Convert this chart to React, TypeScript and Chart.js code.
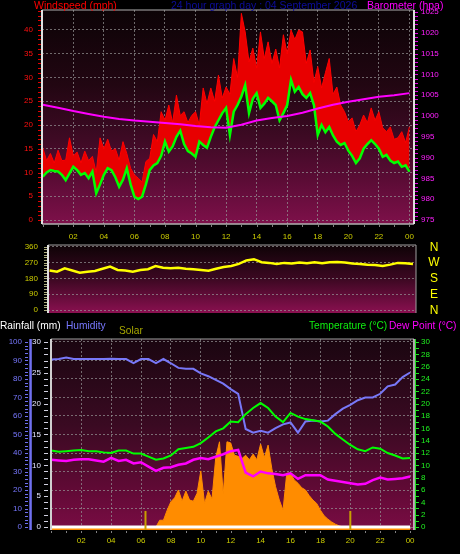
import React, { useEffect, useRef } from "react";
import { Chart, registerables } from "chart.js";

Chart.register(...registerables);

// ---------------- data ----------------
const hourTicks = [2, 4, 6, 8, 10, 12, 14, 16, 18, 20, 22, 24];
const hourLabels = ["02", "04", "06", "08", "10", "12", "14", "16", "18", "20", "22", "00"];

const windTicks = [0, 5, 10, 15, 20, 25, 30, 35, 40];
const baroTicks = [975, 980, 985, 990, 995, 1000, 1005, 1010, 1015, 1020, 1025];
const dirTicks = [0, 90, 180, 270, 360];
const dirLabels = ["0", "90", "180", "270", "360"];
const compassLabels = ["N", "E", "S", "W", "N"];
const humidityTicks = [0, 10, 20, 30, 40, 50, 60, 70, 80, 90, 100];
const rainTicks = [0, 5, 10, 15, 20, 25, 30];
const tempTicks = [0, 2, 4, 6, 8, 10, 12, 14, 16, 18, 20, 22, 24, 26, 28, 30];

// wind speed (mph), one value every 15 minutes from 00:00 to 24:00
const windStepHours = 0.25;
const windAverage = [
  9.1, 10.0, 10.5, 10.3, 10.2, 9.5, 8.4, 9.8,
  11.2, 10.5, 9.5, 9.9, 8.8, 10.2, 5.6, 7.5,
  9.5, 10.9, 10.5, 9.0, 7.0, 8.5, 10.9, 7.5,
  4.9, 4.4, 4.9, 7.5, 10.5, 11.5, 12.0, 13.5,
  16.5, 14.4, 15.5, 17.5, 18.8, 16.0, 14.5, 14.0,
  13.3, 16.5, 15.8, 15.2, 17.5, 19.5, 21.0, 22.5,
  23.6, 17.9, 22.8, 24.2, 26.0, 28.4, 22.5, 25.5,
  26.7, 23.6, 24.5, 25.7, 25.0, 24.2, 21.0, 22.5,
  24.2, 29.5, 27.0, 28.0, 26.5, 25.7, 26.7, 24.2,
  17.9, 20.0, 18.5, 19.6, 17.8, 16.5, 15.8, 16.2,
  14.6, 13.5, 12.0, 13.0, 15.0, 16.0, 16.8, 16.0,
  15.0, 13.3, 13.7, 12.5, 12.0, 12.3, 11.2, 11.5,
  10.2,
];
const windGust = [
  15.2, 12.5, 14.0, 12.0, 14.7, 12.5, 12.6, 17.3,
  13.5, 14.3, 12.0, 14.5, 12.5, 13.4, 10.0, 17.3,
  15.0, 17.0, 14.5, 15.0, 12.6, 16.5, 14.0, 10.9,
  9.5, 8.8, 8.0, 12.3, 13.0, 18.0, 16.5, 22.8,
  21.0, 24.2, 20.5, 26.3, 22.0, 22.8, 20.5, 22.0,
  22.8, 20.0, 27.8, 24.5, 27.8, 25.0, 30.5, 25.7,
  28.0, 26.5, 34.0, 30.0, 43.5, 39.6, 33.3, 36.2,
  32.0, 39.6, 34.0, 37.5, 33.0, 36.0, 32.0, 39.0,
  35.0, 40.0, 38.0, 40.0, 39.6, 33.0, 35.8, 29.0,
  32.3, 27.8, 31.0, 34.0, 26.5, 28.0, 24.2, 22.8,
  20.7, 21.5, 18.6, 20.0, 22.1, 20.5, 23.6, 21.0,
  22.8, 19.4, 18.6, 19.6, 17.0, 17.3, 18.6, 16.3,
  19.6,
];

// barometer (hPa), hourly
const baroStepHours = 1;
const barometer = [
  1002.7, 1002.0, 1001.2, 1000.5, 999.8, 999.3, 998.9, 998.6, 998.3, 998.0,
  997.6, 997.3, 997.2, 997.9, 998.9, 999.5, 1000.0, 1000.8, 1001.8, 1002.7,
  1003.4, 1004.0, 1004.6, 1005.0, 1005.5,
];

// wind direction (degrees), every 30 minutes
const dirStepHours = 0.5;
const windDirection = [
  225, 218, 237, 225, 212, 218, 222, 235, 247, 228,
  225, 218, 228, 232, 250, 240, 237, 240, 235, 232,
  228, 224, 235, 245, 250, 262, 282, 289, 272, 268,
  262, 268, 265, 270, 266, 272, 266, 272, 273, 270,
  264, 262, 258, 256, 250, 258, 268, 266, 262,
];

// humidity (%), temperature and dew point (°C), every 30 minutes
const climateStepHours = 0.5;
const humidity = [
  90.5, 90.8, 91.6, 90.8, 90.8, 90.8, 90.8, 90.8, 91.0, 90.8,
  90.8, 88.6, 90.8, 90.8, 88.6, 90.8, 88.5, 86.0, 85.5, 85.5,
  83.0, 81.5, 79.5, 77.5, 74.5, 72.0, 53.0, 51.0, 52.0, 51.0,
  53.5, 55.5, 56.5, 51.0, 57.0, 57.5, 57.0, 57.5, 61.0, 64.0,
  66.0, 68.5, 70.0, 70.0, 72.0, 76.0, 77.0, 81.0, 83.5,
];
const temperature = [
  12.4, 12.2, 12.3, 12.4, 12.5, 12.3, 12.3, 12.1, 12.0, 12.4,
  12.4, 11.9, 11.9, 11.4, 10.9, 11.1, 11.6, 12.6, 12.8, 13.0,
  13.6, 14.5, 15.5, 16.0, 17.1, 17.0, 18.3, 19.3, 20.1, 19.3,
  17.9, 17.0, 18.5, 17.9, 17.5, 17.3, 17.1, 16.3, 15.1, 14.2,
  13.3, 12.6, 12.3, 12.9, 12.7, 12.0, 11.6, 11.1, 11.2,
];
const dewPoint = [
  10.9, 10.8, 10.7, 10.9, 11.0, 11.0, 10.8, 10.6, 11.2, 10.7,
  10.9, 10.3, 10.5, 9.8, 9.1, 9.6, 9.7, 10.1, 10.3, 10.9,
  11.2, 11.0, 11.4, 11.8, 12.3, 12.5, 8.8, 8.2, 9.0, 8.7,
  8.6, 8.4, 8.7, 7.8, 8.4, 8.4, 8.4, 7.7, 7.5, 7.3,
  7.1, 6.9, 7.0, 7.6, 8.0, 7.7, 7.8, 7.9, 8.2,
];

// solar radiation (W/m²), every 15 minutes
const solarStepHours = 0.25;
const solar = [
  0, 0, 0, 0, 0, 0, 0, 0, 0, 0, 0, 0, 0, 0, 0, 0, 0, 0, 0, 0,
  0, 0, 0, 0, 0, 0, 0, 0, 0, 60, 60, 150, 225, 260, 330, 230,
  320, 240, 230, 300, 500, 210, 320, 250, 620, 760, 290, 760,
  750, 640, 630, 610, 640, 600, 650, 600, 740, 620, 730, 520,
  360, 240, 150, 480, 480, 420, 390, 350, 330, 280, 240, 210,
  150, 100, 70, 45, 25, 10, 0, 0, 0, 0, 0, 0, 0, 0, 0, 0,
  0, 0, 0, 0, 0, 0, 0, 0, 0,
];

// rainfall (mm), hourly
const rainStepHours = 1;
const rainfall = [0, 0, 0, 0, 0, 0, 0, 0, 0, 0, 0, 0, 0, 0, 0, 0, 0, 0, 0, 0, 0, 0, 0, 0, 0];

// sunrise / sunset markers (hours)
const sunMarkers = [6.3, 20.0];

// ---------------- helpers ----------------
const FONT = "'Liberation Sans', Arial, Helvetica, sans-serif";
const GRID = "rgba(150,150,150,0.7)";

function series(values: number[], step: number) {
  return values.map((v, i) => ({ x: i * step, y: v }));
}

function fixedTicks(list: number[]) {
  return (axis: any) => {
    axis.ticks = list.map((v) => ({ value: v }));
  };
}

function fitWidth(w: number) {
  return (s: any) => {
    s.width = w;
    s.paddingTop = 0;
    s.paddingBottom = 0;
    s.paddingLeft = 0;
    s.paddingRight = 0;
  };
}
function fitHeight(h: number) {
  return (s: any) => {
    s.height = h;
    s.paddingTop = 0;
    s.paddingBottom = 0;
    s.paddingLeft = 0;
    s.paddingRight = 0;
  };
}

const plain = (v: any) => String(v);

function makeBg(id: string, stops: [number, string][]) {
  return {
    id,
    beforeDraw(chart: any) {
      const { ctx, chartArea: a } = chart;
      if (!a) return;
      const g = ctx.createLinearGradient(0, a.top, 0, a.bottom);
      stops.forEach(([o, c]) => g.addColorStop(o, c));
      ctx.save();
      ctx.fillStyle = g;
      ctx.fillRect(a.left, a.top, a.right - a.left, a.bottom - a.top);
      ctx.restore();
    },
  };
}

type Minor = { scale: string; side: string; from: number; to: number; step: number; gap: number; len: number; color: string };
function makeMinor(id: string, items: Minor[]) {
  return {
    id,
    afterDraw(chart: any) {
      const ctx = chart.ctx;
      ctx.save();
      ctx.lineWidth = 1;
      items.forEach((it) => {
        const s = chart.scales[it.scale];
        if (!s) return;
        ctx.strokeStyle = it.color;
        ctx.beginPath();
        for (let v = it.from; v <= it.to + 1e-6; v += it.step) {
          const p = Math.round(s.getPixelForValue(v)) + 0.5;
          if (it.side === "left") {
            const x0 = s.right - it.gap;
            ctx.moveTo(x0 - it.len, p);
            ctx.lineTo(x0, p);
          } else if (it.side === "right") {
            const x0 = s.left + it.gap;
            ctx.moveTo(x0, p);
            ctx.lineTo(x0 + it.len, p);
          } else {
            const y0 = s.top + it.gap;
            ctx.moveTo(p, y0);
            ctx.lineTo(p, y0 + it.len);
          }
        }
        ctx.stroke();
      });
      ctx.restore();
    },
  };
}

type Side = { side: string; color: string; width: number };
function makeFrame(id: string, sides: Side[]) {
  return {
    id,
    afterDraw(chart: any) {
      const a = chart.chartArea;
      const ctx = chart.ctx;
      ctx.save();
      sides.forEach((s) => {
        ctx.strokeStyle = s.color;
        ctx.lineWidth = s.width;
        ctx.beginPath();
        if (s.side === "left") {
          ctx.moveTo(a.left, a.top);
          ctx.lineTo(a.left, a.bottom);
        } else if (s.side === "right") {
          ctx.moveTo(a.right, a.top);
          ctx.lineTo(a.right, a.bottom);
        } else if (s.side === "top") {
          ctx.moveTo(a.left, a.top);
          ctx.lineTo(a.right, a.top);
        } else {
          ctx.moveTo(a.left, a.bottom);
          ctx.lineTo(a.right, a.bottom);
        }
        ctx.stroke();
      });
      ctx.restore();
    },
  };
}

const tickFont = { size: 8, family: FONT };

function hourAxis(min: number, max: number, height: number, padding: number) {
  return {
    type: "linear",
    min,
    max,
    afterBuildTicks: fixedTicks(hourTicks),
    afterFit: fitHeight(height),
    ticks: {
      callback: (_v: any, i: number) => hourLabels[i],
      color: "#cccc00",
      font: tickFont,
      padding,
      autoSkip: false,
      maxRotation: 0,
    },
    grid: { color: GRID, drawTicks: false },
    border: { display: false, dash: [2, 2] },
  };
}

// ---------------- chart configs ----------------
function topConfig(): any {
  return {
    type: "line",
    data: {
      datasets: [
        {
          label: "Barometer",
          data: series(barometer, baroStepHours),
          yAxisID: "yBaro",
          borderColor: "#ff00ff",
          borderWidth: 2,
          pointRadius: 0,
          order: 1,
        },
        {
          label: "Average wind",
          data: series(windAverage, windStepHours),
          yAxisID: "y",
          borderColor: "#00ff00",
          borderWidth: 2.5,
          pointRadius: 0,
          order: 2,
        },
        {
          label: "Windspeed",
          data: series(windGust, windStepHours),
          yAxisID: "y",
          borderColor: "#ff0000",
          backgroundColor: "#e80000",
          borderWidth: 1,
          fill: 1,
          pointRadius: 0,
          order: 3,
        },
      ],
    },
    options: {
      animation: false,
      responsive: false,
      layout: { padding: { top: 10, left: 0, right: 0, bottom: 0 } },
      plugins: { legend: { display: false }, tooltip: { enabled: false } },
      scales: {
        x: hourAxis(-0.05, 24.3, 21, 8),
        y: {
          position: "left",
          min: -0.84,
          max: 44.21,
          afterBuildTicks: fixedTicks(windTicks),
          afterFit: fitWidth(42),
          ticks: { color: "#ff1010", font: tickFont, padding: 9, autoSkip: false, callback: plain },
          grid: { color: GRID, drawTicks: false },
          border: { display: false, dash: [2, 2] },
        },
        yBaro: {
          position: "right",
          min: 974.04,
          max: 1025.48,
          afterBuildTicks: fixedTicks(baroTicks),
          afterFit: fitWidth(46),
          ticks: { color: "#ff20ff", font: tickFont, padding: 7, autoSkip: false, callback: plain },
          grid: { display: false, drawTicks: false },
          border: { display: false },
        },
      },
    },
    plugins: [
      makeBg("bgTop", [
        [0, "#0c0306"],
        [0.35, "#220612"],
        [0.6, "#3e0a24"],
        [0.8, "#5c0c36"],
        [1, "#7e104a"],
      ]),
      makeMinor("minorTop", [
        { scale: "y", side: "left", from: 0, to: 44, step: 1, gap: 1, len: 3, color: "#e00000" },
        { scale: "yBaro", side: "right", from: 975, to: 1025, step: 1, gap: 1, len: 3, color: "#e000e0" },
        { scale: "x", side: "bottom", from: 0, to: 24, step: 1, gap: 1, len: 2, color: "#808080" },
      ]),
      makeFrame("frameTop", [
        { side: "top", color: "#b0b0b0", width: 1 },
        { side: "bottom", color: "#b0b0b0", width: 1.5 },
        { side: "left", color: "#e0e0e0", width: 2 },
        { side: "right", color: "#e0e0e0", width: 2 },
      ]),
    ],
  };
}

const compassPlugin = {
  id: "compass",
  afterDraw(chart: any) {
    const ctx = chart.ctx;
    const y = chart.scales.y;
    const a = chart.chartArea;
    ctx.save();
    ctx.fillStyle = "#ffff00";
    ctx.font = "12px " + FONT;
    ctx.textAlign = "center";
    ctx.textBaseline = "middle";
    dirTicks.forEach((v, i) => {
      ctx.fillText(compassLabels[i], a.right + 18, y.getPixelForValue(v) + 0.5);
    });
    ctx.restore();
  },
};

function midConfig(): any {
  return {
    type: "line",
    data: {
      datasets: [
        {
          label: "Wind direction",
          data: series(windDirection, dirStepHours),
          yAxisID: "y",
          borderColor: "#ffff00",
          borderWidth: 2.5,
          pointRadius: 0,
        },
      ],
    },
    options: {
      animation: false,
      responsive: false,
      layout: { padding: { top: 13, left: 0, right: 44, bottom: 7 } },
      plugins: { legend: { display: false }, tooltip: { enabled: false } },
      scales: {
        x: { type: "linear", display: false, min: -0.1, max: 24.2 },
        y: {
          position: "left",
          min: -17,
          max: 369.7,
          afterBuildTicks: fixedTicks(dirTicks),
          afterFit: fitWidth(48),
          ticks: {
            color: "#cccc00",
            font: tickFont,
            padding: 10,
            autoSkip: false,
            callback: (_v: any, i: number) => dirLabels[i],
          },
          grid: { color: GRID, drawTicks: false },
          border: { display: false, dash: [2, 2] },
        },
      },
    },
    plugins: [
      makeBg("bgMid", [
        [0, "#0e0306"],
        [0.5, "#3c0822"],
        [1, "#8a1050"],
      ]),
      makeMinor("minorMid", [
        { scale: "y", side: "left", from: 0, to: 360, step: 15, gap: 1, len: 3, color: "#b0b080" },
      ]),
      makeFrame("frameMid", [
        { side: "top", color: "#a0a0a0", width: 1 },
        { side: "left", color: "#e0e0e0", width: 2 },
        { side: "right", color: "#a0a0a0", width: 1 },
      ]),
      compassPlugin,
    ],
  };
}

const sunPlugin = {
  id: "sunMarkers",
  afterDatasetsDraw(chart: any) {
    const ctx = chart.ctx;
    const x = chart.scales.x;
    const y = chart.scales.yTemp;
    ctx.save();
    ctx.strokeStyle = "#c8a000";
    ctx.lineWidth = 2;
    sunMarkers.forEach((h) => {
      const px = x.getPixelForValue(h);
      ctx.beginPath();
      ctx.moveTo(px, y.getPixelForValue(-0.49));
      ctx.lineTo(px, y.getPixelForValue(2.6));
      ctx.stroke();
    });
    ctx.restore();
  },
  afterDraw(chart: any) {
    const ctx = chart.ctx;
    const a = chart.chartArea;
    const h = chart.scales.yHum;
    ctx.save();
    ctx.fillStyle = "#7070f0";
    ctx.fillRect(h.right - 2.7, a.top, 2.5, a.bottom - a.top);
    ctx.fillStyle = "#20e020";
    ctx.fillRect(a.right + 1, a.top, 1, a.bottom - a.top);
    ctx.restore();
  },
};

function bottomConfig(): any {
  return {
    type: "line",
    data: {
      datasets: [
        {
          label: "Rainfall",
          data: series(rainfall, rainStepHours),
          yAxisID: "yRain",
          borderColor: "#ffffff",
          borderWidth: 3,
          pointRadius: 0,
          order: 0,
        },
        {
          label: "Dew Point",
          data: series(dewPoint, climateStepHours),
          yAxisID: "yTemp",
          borderColor: "#ff00ff",
          borderWidth: 2.5,
          pointRadius: 0,
          order: 1,
        },
        {
          label: "Temperature",
          data: series(temperature, climateStepHours),
          yAxisID: "yTemp",
          borderColor: "#00ff00",
          borderWidth: 2,
          pointRadius: 0,
          order: 2,
        },
        {
          label: "Humidity",
          data: series(humidity, climateStepHours),
          yAxisID: "yHum",
          borderColor: "#7878f8",
          borderWidth: 2,
          pointRadius: 0,
          order: 3,
        },
        {
          label: "Solar",
          data: series(solar, solarStepHours),
          yAxisID: "ySolar",
          borderColor: "#ff8c00",
          backgroundColor: "#ff8c00",
          borderWidth: 1,
          fill: "start",
          pointRadius: 0,
          order: 4,
        },
      ],
    },
    options: {
      animation: false,
      responsive: false,
      layout: { padding: { top: 19, left: 0, right: 0, bottom: 0 } },
      plugins: { legend: { display: false }, tooltip: { enabled: false } },
      scales: {
        x: hourAxis(-0.02, 24.26, 24, 6),
        yHum: {
          position: "left",
          weight: 2,
          min: -1.62,
          max: 101.62,
          afterBuildTicks: fixedTicks(humidityTicks),
          afterFit: fitWidth(32),
          ticks: { color: "#7878ff", font: tickFont, padding: 10, autoSkip: false, callback: plain },
          grid: { color: GRID, drawTicks: false },
          border: { display: false, dash: [2, 2] },
        },
        yRain: {
          position: "left",
          weight: 1,
          min: -0.49,
          max: 30.49,
          afterBuildTicks: fixedTicks(rainTicks),
          afterFit: fitWidth(19),
          ticks: { color: "#e8e8ff", font: tickFont, padding: 10, autoSkip: false, callback: plain },
          grid: { display: false, drawTicks: false },
          border: { display: false },
        },
        yTemp: {
          position: "right",
          min: -0.49,
          max: 30.49,
          afterBuildTicks: fixedTicks(tempTicks),
          afterFit: fitWidth(46),
          ticks: { color: "#20f020", font: tickFont, padding: 7, autoSkip: false, callback: plain },
          grid: { display: false, drawTicks: false },
          border: { display: false },
        },
        ySolar: { display: false, min: -27, max: 1677 },
      },
    },
    plugins: [
      makeBg("bgBot", [
        [0, "#1a0610"],
        [0.45, "#3a0a22"],
        [0.8, "#620a36"],
        [1, "#7a0c44"],
      ]),
      makeMinor("minorBot", [
        { scale: "yHum", side: "left", from: 0, to: 100, step: 2, gap: 4, len: 3, color: "#7070f0" },
        { scale: "yRain", side: "left", from: 0, to: 30, step: 1, gap: 3, len: 4, color: "#d0d0e0" },
        { scale: "yTemp", side: "right", from: 0, to: 30, step: 1, gap: 2, len: 3, color: "#20e020" },
        { scale: "x", side: "bottom", from: 0, to: 24, step: 1, gap: 1, len: 2, color: "#808080" },
      ]),
      makeFrame("frameBot", [
        { side: "top", color: "#a0a0a0", width: 1 },
        { side: "left", color: "#d0d0d0", width: 2 },
        { side: "right", color: "#e0e0e0", width: 1.5 },
      ]),
      sunPlugin,
    ],
  };
}

// ---------------- component ----------------
const txt = (left: number, top: number, color: string, size: number): React.CSSProperties => ({
  position: "absolute",
  left,
  top,
  color,
  fontSize: size,
  lineHeight: 1,
  fontFamily: FONT,
  whiteSpace: "nowrap",
});

export default function App() {
  const topRef = useRef<HTMLCanvasElement>(null);
  const midRef = useRef<HTMLCanvasElement>(null);
  const botRef = useRef<HTMLCanvasElement>(null);

  useEffect(() => {
    document.body.style.margin = "0";
    document.body.style.background = "#000";
    Chart.defaults.font.family = FONT;
    const charts = [
      new Chart(topRef.current as HTMLCanvasElement, topConfig()),
      new Chart(midRef.current as HTMLCanvasElement, midConfig()),
      new Chart(botRef.current as HTMLCanvasElement, bottomConfig()),
    ];
    return () => charts.forEach((c) => c.destroy());
  }, []);

  return (
    <div style={{ position: "relative", width: 460, height: 554, background: "#000", overflow: "hidden" }}>
      <canvas ref={topRef} width={460} height={245} style={{ position: "absolute", left: 0, top: 0 }} />
      <canvas ref={midRef} width={460} height={88} style={{ position: "absolute", left: 0, top: 232 }} />
      <canvas ref={botRef} width={460} height={234} style={{ position: "absolute", left: 0, top: 320 }} />

      <span style={txt(34, 0, "#ff0000", 10.5)}>Windspeed (mph)</span>
      <span style={txt(171, 0, "#0c0c9c", 10.5)}>24 hour graph day : 04 September 2026</span>
      <span style={txt(367, 0, "#ff00ff", 10.5)}>Barometer (hpa)</span>

      <span style={txt(0, 320.5, "#ffffff", 10.2)}>Rainfall (mm)</span>
      <span style={txt(66, 320.5, "#7878ff", 10.2)}>Humidity</span>
      <span style={txt(119, 325.5, "#a8a800", 10.2)}>Solar</span>
      <span style={txt(309, 320.5, "#10ee10", 10.2)}>Temperature (°C)</span>
      <span style={txt(389, 320.5, "#ff00ff", 10.2)}>Dew Point (°C)</span>
    </div>
  );
}
